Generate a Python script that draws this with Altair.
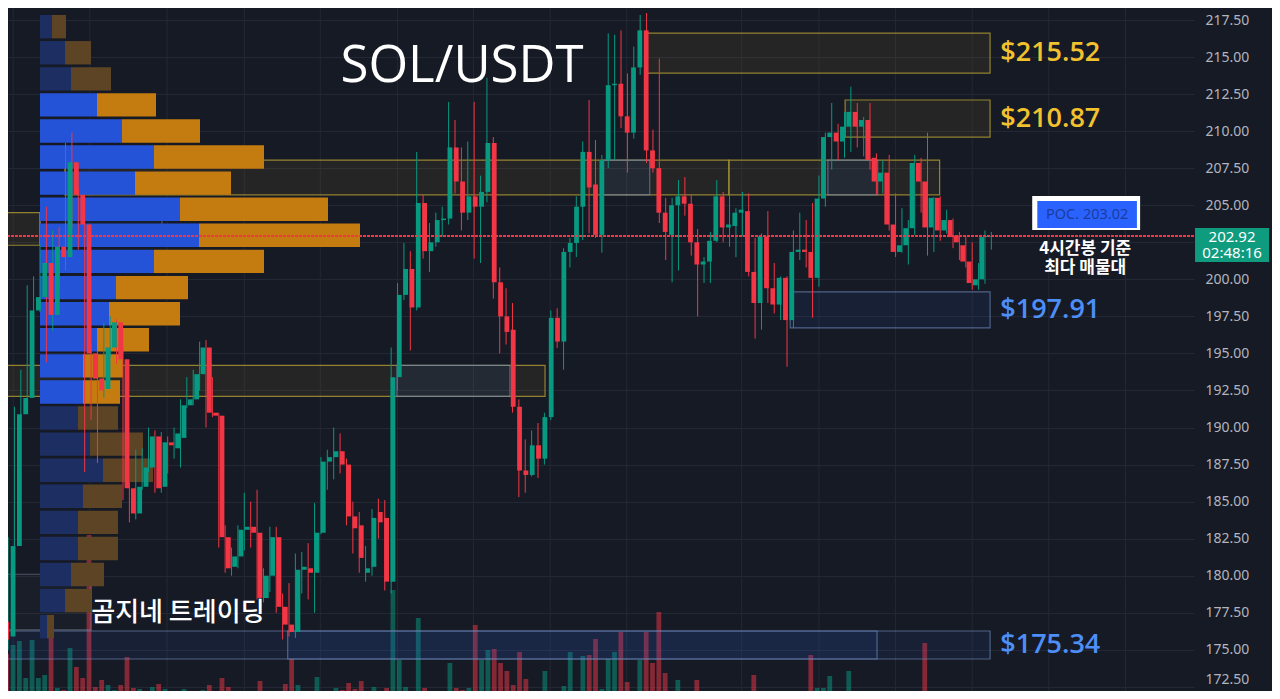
import altair as alt
import pandas as pd

# ---------------- 4h candles (SOL/USDT) ----------------
opens = [176.9, 175.9, 182.0, 190.9, 192.0, 197.9, 198.8, 201.1, 197.6, 202.2,
         201.5, 207.9, 205.7, 203.7, 195.0, 193.3, 192.6, 195.4, 197.1, 194.6,
         185.9, 184.2, 186.0, 187.3, 189.4, 186.0, 189.0, 188.6, 189.3, 191.5,
         191.9, 193.6, 195.4, 191.0, 190.8, 182.6, 180.6, 181.3, 183.1, 183.3,
         182.9, 178.5, 180.0, 182.6, 177.9, 176.7, 176.2, 180.4, 180.5, 180.2,
         182.9, 187.7, 188.0, 188.4, 187.5, 184.0, 183.4, 180.2, 180.6, 184.3,
         183.9, 179.6, 193.4, 198.95, 200.7, 198.1, 205.15, 201.9, 202.5, 204.0,
         204.1, 208.9, 206.6, 204.5, 205.6, 204.9, 205.9, 209.2, 199.8, 197.5,
         196.6, 191.4, 187.1, 186.8, 188.8, 187.9, 190.7, 197.4, 195.8, 201.85,
         202.45, 204.9, 208.6, 206.4, 203.0, 208.05, 213.1, 213.2, 211.0, 209.9,
         214.3, 216.8, 208.7, 207.5, 204.5, 203.0, 205.0, 205.6, 205.1, 202.5,
         201.0, 201.2, 202.6, 205.6, 203.5, 203.6, 204.5, 204.6, 200.5, 198.4,
         202.9, 199.4, 198.3, 200.1, 197.25, 201.85, 202.0, 201.85, 200.1, 205.45,
         209.6, 209.9, 209.3, 210.3, 211.3, 210.3, 210.75, 208.2, 206.6, 207.2,
         203.7, 201.85, 202.3, 203.45, 207.85, 206.6, 203.5, 205.5, 203.3, 204.0,
         202.95, 202.3, 201.2, 199.6, 200.0, 202.85]
highs = [177.5, 182.6, 191.4, 193.9, 199.6, 200.2, 202.4, 204.9, 203.3, 203.5,
         209.2, 209.9, 206.2, 205.5, 195.7, 195.2, 197.1, 197.5, 197.3, 195.4,
         186.3, 188.5, 188.6, 190.0, 189.8, 189.7, 189.4, 190.0, 191.9, 193.4,
         193.9, 195.8, 195.9, 193.4, 191.0, 183.4, 181.9, 183.4, 185.6, 185.0,
         185.8, 180.5, 183.3, 183.3, 178.8, 179.5, 181.5, 181.6, 182.2, 184.9,
         188.0, 188.5, 190.0, 189.6, 187.9, 185.0, 184.3, 182.0, 184.5, 185.2,
         185.1, 195.4, 199.75, 202.45, 201.9, 208.6, 205.7, 203.8, 204.5, 204.9,
         211.97, 210.75, 208.9, 209.3, 211.97, 207.0, 213.6, 209.6, 200.8, 199.4,
         198.4, 191.9, 189.2, 189.8, 190.3, 191.0, 197.9, 198.05, 202.1, 202.8,
         205.6, 209.3, 212.1, 209.4, 208.4, 216.6, 216.5, 216.8, 213.9, 215.7,
         217.84, 217.97, 210.1, 214.9, 205.5, 205.5, 206.7, 206.9, 205.7, 203.4,
         201.5, 203.2, 206.7, 205.9, 205.7, 204.8, 205.9, 205.8, 202.8, 203.1,
         204.6, 201.1, 200.2, 200.2, 203.3, 204.5, 204.0, 205.15, 207.0, 209.9,
         211.9, 210.5, 211.3, 213.0, 211.9, 210.95, 211.9, 208.5, 208.05, 208.4,
         205.8, 204.8, 204.0, 208.4, 208.2, 209.9, 205.55, 205.6, 204.7, 204.1,
         203.2, 202.9, 202.5, 201.1, 203.3, 203.2]
lows = [175.2, 175.0, 181.2, 189.8, 191.8, 195.4, 197.8, 194.4, 196.5, 199.6,
        200.6, 203.5, 202.0, 187.0, 190.5, 187.6, 192.0, 194.8, 194.3, 185.1,
        183.6, 183.8, 185.8, 187.0, 185.6, 185.6, 186.9, 187.9, 187.3, 191.3,
        191.5, 192.5, 190.0, 190.7, 181.9, 180.2, 180.0, 180.5, 181.7, 181.9,
        178.4, 178.2, 178.9, 177.5, 175.7, 175.9, 175.8, 178.8, 178.4, 177.5,
        182.8, 185.8, 186.5, 186.9, 183.4, 181.5, 180.2, 179.6, 180.0, 182.5,
        179.0, 178.8, 192.5, 198.6, 195.2, 197.9, 201.4, 200.5, 202.2, 202.9,
        203.7, 205.8, 203.3, 204.0, 201.4, 201.1, 205.2, 198.7, 195.0, 195.6,
        191.0, 185.3, 185.6, 186.7, 186.6, 187.5, 190.5, 195.37, 193.9, 200.8,
        201.5, 202.65, 203.1, 202.8, 201.8, 207.5, 208.05, 210.2, 207.2, 209.5,
        213.8, 207.85, 207.2, 203.8, 201.3, 199.8, 200.6, 204.3, 201.6, 197.5,
        199.75, 199.75, 202.5, 202.5, 202.2, 201.5, 202.9, 200.2, 196.0, 196.6,
        198.4, 197.7, 197.25, 194.1, 196.7, 201.3, 200.8, 197.4, 199.5, 204.9,
        207.4, 208.05, 208.2, 208.6, 208.9, 208.3, 207.4, 205.7, 205.8, 203.3,
        201.5, 201.8, 201.0, 203.0, 204.5, 201.6, 201.85, 202.6, 203.1, 202.1,
        201.3, 200.8, 199.3, 199.3, 199.7, 202.0]
closes = [175.7, 182.0, 190.9, 192.0, 197.9, 198.8, 201.1, 197.6, 202.2, 201.5,
          207.9, 205.7, 203.7, 195.0, 193.3, 192.5, 195.4, 197.1, 194.6, 185.9,
          184.2, 186.0, 187.3, 189.4, 185.9, 189.0, 188.8, 189.6, 191.5, 191.9,
          193.6, 195.4, 191.0, 190.8, 182.6, 180.5, 181.3, 183.1, 183.3, 182.9,
          178.5, 180.0, 182.6, 177.9, 176.7, 176.2, 180.4, 180.6, 180.2, 182.9,
          187.7, 188.0, 188.4, 187.5, 184.0, 183.2, 181.2, 180.5, 183.9, 183.6,
          179.6, 193.4, 198.95, 200.7, 198.1, 205.15, 201.9, 202.5, 204.0, 204.1,
          208.9, 206.6, 204.5, 205.6, 204.9, 205.9, 209.2, 199.8, 197.5, 196.45,
          191.4, 187.1, 186.8, 188.8, 187.9, 190.7, 197.4, 195.8, 201.85, 202.45,
          204.9, 208.6, 206.2, 203.0, 208.05, 213.1, 213.2, 211.0, 209.9, 214.3,
          216.8, 208.7, 207.5, 204.5, 203.2, 205.0, 205.6, 205.1, 202.5, 201.0,
          201.2, 202.6, 205.6, 203.5, 203.7, 204.5, 204.7, 200.5, 198.4, 202.9,
          199.4, 198.3, 200.1, 197.25, 201.85, 202.0, 201.85, 200.1, 205.45, 209.6,
          209.9, 209.3, 210.3, 211.3, 210.3, 210.75, 208.05, 206.6, 207.2, 203.7,
          201.85, 202.3, 203.45, 207.85, 206.6, 203.5, 205.5, 203.3, 204.0, 202.85,
          202.5, 201.2, 199.75, 200.0, 202.85, 202.92]
volumes = [45, 54, 58, 21, 59, 21, 24, 82, 11, 9,
           51, 32, 21, 164, 12, 19, 14, 9, 14, 42,
           11, 10, 8, 12, 15, 10, 6, 8, 10, 6,
           7, 9, 14, 6, 21, 12, 5, 7, 6, 5,
           18, 6, 8, 6, 15, 40, 14, 6, 5, 22,
           6, 5, 11, 9, 16, 10, 18, 6, 12, 8,
           11, 109, 39, 12, 3, 81, 11, 5, 5, 4,
           36, 11, 9, 11, 74, 39, 49, 50, 36, 28,
           14, 47, 20, 5, 5, 28, 5, 3, 13, 47,
           7, 43, 44, 60, 10, 40, 47, 67, 17, 5,
           39, 67, 36, 87, 26, 3, 19, 3, 3, 19,
           2, 2, 2, 3, 2, 3, 2, 4, 24, 3,
           7, 2, 2, 7, 3, 3, 3, 44, 11, 11,
           23, 4, 3, 28, 3, 3, 3, 3, 3, 6,
           3, 3, 3, 4, 3, 56, 3, 3, 3, 4,
           3, 5, 8, 3, 5, 2]

# ---------------- volume profile (24 price rows) ----------------
vp_low = [216.17, 214.41, 212.65, 210.89, 209.13, 207.37, 205.61, 203.85,
          202.09, 200.33, 198.56, 196.80, 195.04, 193.28, 191.52, 189.76,
          188.00, 186.24, 184.48, 182.72, 180.96, 179.20, 177.44, 175.68]
vp_buy = [12, 25, 31, 57, 82, 114, 95, 140, 159, 114, 76, 69,
          57, 43, 43, 38, 50, 63, 43, 38, 38, 31, 25, 7]
vp_sell = [14, 26, 40, 59, 78, 110, 96, 148, 161, 110, 72, 71,
           52, 40, 37, 40, 53, 50, 39, 40, 40, 33, 26, 7]
vp_value_area = [False, False, False, True, True, True, True, True, True, True,
                 True, True, True, True, True, False, False, False, False, False,
                 False, False, False, False]
VP_STEP = 1.76

# ---------------- zones ----------------
zone_kind = ["yellow", "yellow", "yellow", "yellow", "yellow", "yellow",
             "blue", "blue", "blue", "blue", "blue", "blue", "gray", "gray"]
zone_from = [100.75, 132.1, 9.9, 113.9, -0.3, -0.3,
             94.2, 129.4, 61.9, 123.5, -0.3, 44.8, 6.0, -0.3]
zone_to = [154.8, 154.8, 113.9, 146.9, 6.0, 85.1,
           101.5, 137.2, 79.6, 154.8, 154.8, 137.1, 25.1, 14.0]
zone_low = [213.92, 209.6, 205.7, 205.7, 202.3, 192.1,
            205.7, 205.7, 192.1, 196.72, 174.38, 174.38, 202.3, 176.34]
zone_high = [216.62, 212.1, 208.05, 208.05, 204.5, 194.2,
             208.05, 208.05, 194.2, 199.15, 176.27, 176.27, 204.5, 180.1]

level_text = ["$215.52", "$210.87", "$197.91", "$175.34"]
level_zone = [0, 1, 9, 10]
level_color = ["#f2c12e", "#f2c12e", "#4d8ef7", "#4d8ef7"]

grid_at = [1.8, 13.8, 25.9, 38.0, 49.9, 62.0, 73.9, 85.9, 97.9, 115.9,
           128.0, 140.0, 152.0, 164.0, 176.0]
price_ticks = [172.5, 175.0, 177.5, 180.0, 182.5, 185.0, 187.5, 190.0, 192.5,
               195.0, 197.5, 200.0, 202.5, 205.0, 207.5, 210.0, 212.5, 215.0, 217.5]
last_price = 202.92
poc_price = 203.02
countdown = "02:48:16"

# ---------------- tables ----------------
n = len(opens)
assert len(highs) == n and len(lows) == n and len(closes) == n and len(volumes) == n
df = pd.DataFrame({"i": list(range(n)), "open": opens, "high": highs,
                   "low": lows, "close": closes, "vol": volumes})
df["dir"] = ["up" if c >= o else "down" for o, c in zip(opens, closes)]

rows = []
for lo, b, s, va in zip(vp_low, vp_buy, vp_sell, vp_value_area):
    tag = "in" if va else "out"
    rows.append({"lo": lo + 0.09, "hi": lo + VP_STEP - 0.09, "s": 0, "e": b, "k": "buy_" + tag})
    rows.append({"lo": lo + 0.09, "hi": lo + VP_STEP - 0.09, "s": b, "e": b + s, "k": "sell_" + tag})
vp = pd.DataFrame(rows)

zones = pd.DataFrame({"kind": zone_kind, "x0": zone_from, "x1": zone_to,
                      "lo": zone_low, "hi": zone_high})

W, H = 1186, 683
xs = alt.Scale(domain=[0.99, 186.74], nice=False, zero=False)
ys = alt.Scale(domain=[172.22, 218.31], nice=False, zero=False)
xp = alt.Scale(domain=[-32, 1154], nice=False, zero=False)
yv = alt.Scale(domain=[8, 691], nice=False, zero=False)
dir_col = alt.Scale(domain=["up", "down"], range=["#089981", "#f23645"])

X = lambda f: alt.X(f, scale=xs, axis=None)
Y = lambda f: alt.Y(f, scale=ys, axis=None)

vgrid = alt.Chart(pd.DataFrame({"g": grid_at})).mark_rule(
    color="#242835", strokeWidth=1).encode(x=X("g:Q"))

vol = alt.Chart(df).mark_bar(size=4.8, opacity=0.5).encode(
    x=X("i:Q"),
    y=alt.Y("vol:Q", scale=yv, axis=None),
    y2=alt.datum(0),
    color=alt.Color("dir:N", scale=dir_col, legend=None))

def zone_layer(kind, fill, fop, stroke, sop):
    return alt.Chart(zones).transform_filter(alt.datum.kind == kind).mark_rect(
        fill=fill, fillOpacity=fop, stroke=stroke, strokeOpacity=sop, strokeWidth=1.2
    ).encode(x=X("x0:Q"), x2="x1:Q", y=Y("lo:Q"), y2="hi:Q")

z_y = zone_layer("yellow", "#e0bd1c", 0.07, "#a89433", 0.85)
z_b = zone_layer("blue", "#2f63e0", 0.09, "#6f88b8", 0.65)
z_g = zone_layer("gray", "#8a93a8", 0.03, "#7d8599", 0.55)

profile = alt.Chart(vp).mark_rect().encode(
    x=alt.X("s:Q", scale=xp, axis=None), x2="e:Q",
    y=Y("lo:Q"), y2="hi:Q",
    color=alt.Color("k:N", legend=None, scale=alt.Scale(
        domain=["buy_in", "sell_in", "buy_out", "sell_out"],
        range=["#2553d8", "#c47b10", "#1c2e62", "#5c4424"])))

wick = alt.Chart(df).mark_rule(strokeWidth=1).encode(
    x=X("i:Q"), y=Y("low:Q"), y2="high:Q",
    color=alt.Color("dir:N", scale=dir_col, legend=None))

body = alt.Chart(df).mark_bar(size=4.8, minBandSize=1.2).encode(
    x=X("i:Q"),
    y=alt.Y("open:Q", scale=ys, axis=alt.Axis(
        orient="right", values=price_ticks, grid=True,
        labelExpr="datum.value == 202.5 ? '' : format(datum.value, '.2f')",
        gridColor="#242835", ticks=False, domain=False, labelPadding=11,
        labelFlush=6, labelColor="#b2b5be", labelFontSize=14,
        labelFont="Noto Sans", title=None)),
    y2="close:Q",
    color=alt.Color("dir:N", scale=dir_col, legend=None))

poc_line = alt.Chart(pd.DataFrame({"p": [last_price]})).mark_rule(
    color="#f23645", strokeWidth=2, strokeDash=[3, 1]).encode(y=Y("p:Q"))

# level labels next to zones
lv = pd.DataFrame({"t": level_text, "c": level_color,
                   "x": [156.4] * len(level_text),
                   "y": [(zone_low[k] + zone_high[k]) / 2 for k in level_zone]})
levels = alt.Chart(lv).mark_text(align="left", font="Open Sans", fontSize=27,
                                 fontWeight=600).encode(
    x=X("x:Q"), y=Y("y:Q"), text="t:N", color=alt.Color("c:N", scale=None))

title = alt.Chart(pd.DataFrame({"t": ["SOL/USDT"], "x": [72.1], "y": [214.33]})).mark_text(
    font="Open Sans", fontSize=51, color="#ffffff").encode(x=X("x:Q"), y=Y("y:Q"), text="t:N")

brand = alt.Chart(pd.DataFrame({"t": ["곰지네 트레이딩"], "x": [27.6], "y": [177.5]})).mark_text(
    font="Noto Sans CJK KR", fontSize=26, fontWeight=500, color="#ffffff").encode(
    x=X("x:Q"), y=Y("y:Q"), text="t:N")

note = alt.Chart(pd.DataFrame({"t": ["4시간봉 기준\n최다 매물대"], "x": [169.7],
                               "y": [202.05]})).mark_text(
    font="Noto Sans CJK KR", fontSize=17, fontWeight=600, color="#ffffff",
    lineBreak="\n", lineHeight=19).encode(
    x=X("x:Q"), y=Y("y:Q"), text="t:N")

poc_outer = alt.Chart(pd.DataFrame({"x0": [161.4], "x1": [178.3], "lo": [203.33], "hi": [205.62]})).mark_rect(
    fill="#ffffff").encode(x=X("x0:Q"), x2="x1:Q", y=Y("lo:Q"), y2="hi:Q")
poc_inner = alt.Chart(pd.DataFrame({"x0": [162.2], "x1": [177.8], "lo": [203.46], "hi": [205.29]})).mark_rect(
    fill="#2962ff").encode(x=X("x0:Q"), x2="x1:Q", y=Y("lo:Q"), y2="hi:Q")
poc_text = alt.Chart(pd.DataFrame({"t": ["POC. %.2f" % poc_price], "x": [170.0], "y": [204.35]})).mark_text(
    font="Noto Sans", fontSize=14.5, color="#1c3c9c").encode(x=X("x:Q"), y=Y("y:Q"), text="t:N")

pbox = alt.Chart(pd.DataFrame({"x0": [186.9], "x1": [198.5], "lo": [201.17], "hi": [203.46]})).mark_rect(
    fill="#0f9b7e").encode(x=X("x0:Q"), x2="x1:Q", y=Y("lo:Q"), y2="hi:Q")
ptext = alt.Chart(pd.DataFrame({"t": ["%.2f\n%s" % (last_price, countdown)], "x": [192.7],
                                "y": [202.86]})).mark_text(
    font="Noto Sans", fontSize=15, color="#ffffff", lineBreak="\n", lineHeight=16).encode(
    x=X("x:Q"), y=Y("y:Q"), text="t:N")

chart = alt.layer(
    vgrid, vol, z_y, z_b, z_g, profile, wick, body, poc_line,
    levels, title, brand, poc_outer, poc_inner, poc_text, note, pbox, ptext
).resolve_scale(x="independent", y="independent", color="independent").properties(
    width=W, height=H,
    autosize=alt.AutoSizeParams(type="none"),
    padding={"left": 0, "top": 0, "right": 78, "bottom": 0},
    background="#161a25",
).configure_view(stroke=None)

chart.save("out.html", embed_options={"renderer": "svg", "actions": False})
